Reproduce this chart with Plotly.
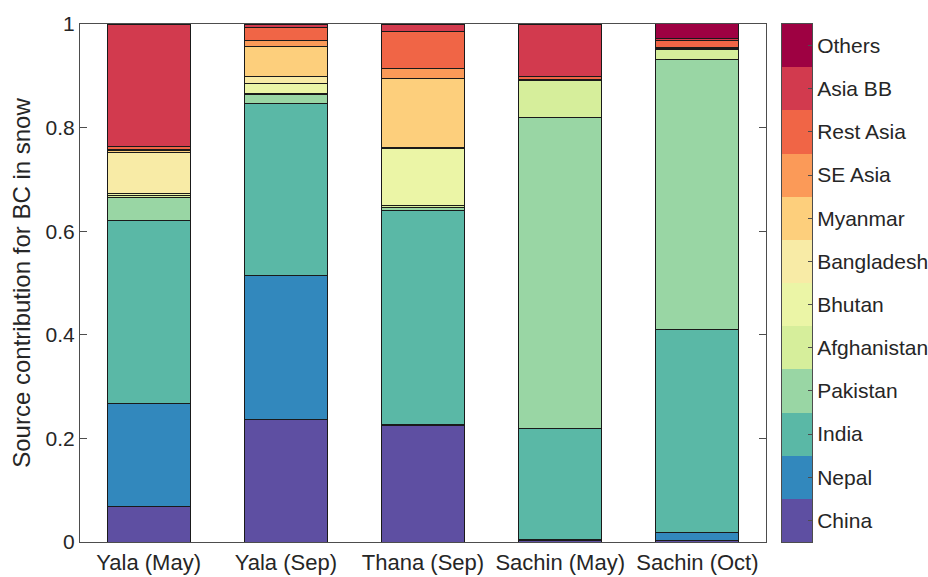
import plotly.graph_objects as go

# Sampling sites / seasons
sites = ["Yala (May)", "Yala (Sep)", "Thana (Sep)", "Sachin (May)", "Sachin (Oct)"]

# Source regions (bottom to top of each stack)
sources = ["China", "Nepal", "India", "Pakistan", "Afghanistan", "Bhutan",
           "Bangladesh", "Myanmar", "SE Asia", "Rest Asia", "Asia BB", "Others"]

# Fractional contribution of each source at each site
china       = [0.068, 0.236, 0.224, 0.002, 0.003]
nepal       = [0.200, 0.278, 0.003, 0.002, 0.015]
india       = [0.353, 0.333, 0.413, 0.215, 0.392]
pakistan    = [0.044, 0.016, 0.005, 0.601, 0.522]
afghanistan = [0.003, 0.003, 0.004, 0.070, 0.019]
bhutan      = [0.005, 0.019, 0.110, 0.000, 0.001]
bangladesh  = [0.079, 0.013, 0.002, 0.000, 0.001]
myanmar     = [0.003, 0.059, 0.133, 0.001, 0.001]
se_asia     = [0.003, 0.011, 0.020, 0.002, 0.001]
rest_asia   = [0.006, 0.025, 0.071, 0.006, 0.014]
asia_bb     = [0.236, 0.007, 0.015, 0.101, 0.003]
others      = [0.000, 0.000, 0.000, 0.000, 0.029]

series = [china, nepal, india, pakistan, afghanistan, bhutan,
          bangladesh, myanmar, se_asia, rest_asia, asia_bb, others]

colors = ["#5e4fa2", "#3288bd", "#5ab8a6", "#99d6a4", "#d6ee9b", "#ebf5a6",
          "#f8eba6", "#fdcf7c", "#fb9a58", "#f06546", "#d23a4e", "#9e0142"]

TEXT = "#262626"
AXIS = "#4d4d4d"
FONT = "Liberation Sans, Arial, sans-serif"

fig = go.Figure()

for name, vals, col in zip(sources, series, colors):
    fig.add_trace(go.Bar(
        x=sites, y=vals, name=name,
        marker=dict(color=col, line=dict(color="#1a1a1a", width=1)),
        showlegend=False, xaxis="x", yaxis="y",
    ))

# Discrete colour key drawn as a stacked column on its own axes
key_base = list(range(len(sources)))
key_height = [1] * len(sources)
fig.add_trace(go.Bar(
    x=[0] * len(sources), y=key_height, base=key_base, width=1,
    marker=dict(color=colors, line=dict(width=0)),
    showlegend=False, hoverinfo="skip", xaxis="x2", yaxis="y2",
))

fig.update_layout(
    width=928, height=577,
    margin=dict(l=80, r=0, t=24, b=35, autoexpand=False),
    paper_bgcolor="white", plot_bgcolor="white",
    barmode="stack", bargap=0.395,
    font=dict(family=FONT, size=21, color=TEXT),
    xaxis=dict(
        domain=[0, 686 / 848], type="category", range=[-0.5, 4.5],
        showline=True, linecolor=AXIS, linewidth=1, mirror=True,
        ticks="", showgrid=False, zeroline=False, ticklabelstandoff=1,
        automargin=False,
        tickfont=dict(size=22, color=TEXT),
    ),
    yaxis=dict(
        range=[0, 1], tickvals=[0, 0.2, 0.4, 0.6, 0.8, 1],
        ticktext=["0", "0.2", "0.4", "0.6", "0.8", "1"],
        showline=True, linecolor=AXIS, linewidth=1, mirror="ticks",
        ticks="inside", ticklen=7, tickcolor=AXIS,
        showgrid=False, zeroline=False, automargin=False,
        tickfont=dict(size=21, color=TEXT),
        title=dict(text="Source contribution for BC in snow",
                   font=dict(size=24, color=TEXT), standoff=8),
    ),
    xaxis2=dict(
        domain=[702 / 848, 732 / 848], range=[-0.5, 0.5], anchor="y2",
        showticklabels=False, ticks="", showgrid=False, zeroline=False,
        showline=True, linecolor=AXIS, linewidth=1, mirror=True,
        fixedrange=True, automargin=False,
    ),
    yaxis2=dict(
        domain=[0, 1], range=[0, len(sources)], anchor="x2", side="right",
        tickvals=[i + 0.5 for i in key_base], ticktext=sources,
        ticks="inside", ticklen=4, tickcolor=AXIS,
        showline=True, linecolor=AXIS, linewidth=1, mirror=True,
        showgrid=False, zeroline=False, automargin=False,
        tickfont=dict(size=21, color=TEXT),
    ),
)

fig.write_html("out.html")
